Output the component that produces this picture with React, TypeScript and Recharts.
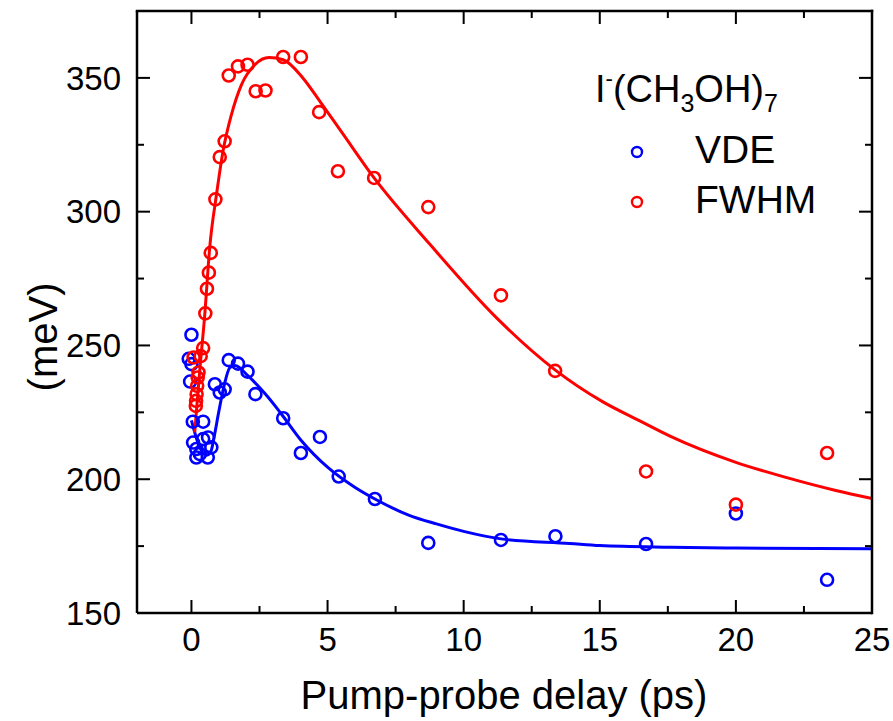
import { ComposedChart, Line, Scatter, XAxis, YAxis } from 'recharts';

// VDE (blue) measured points
const vdeX = [0.0, -0.1, 0.0, -0.05, 0.05, 0.43, 0.06, 0.18, 0.18, 0.31, 0.43, 0.61, 0.73, 0.6, 0.86, 1.04, 1.22, 1.37, 1.71, 2.06, 2.35, 3.37, 4.02, 4.72, 5.41, 6.74, 8.7, 11.37, 13.37, 16.7, 20.0, 23.35];
const vdeY = [254, 245, 243, 236.5, 221.5, 221.5, 213.7, 211.3, 208.1, 209.4, 215, 215.6, 211.9, 208.1, 235.5, 232.4, 233.6, 244.5, 243.2, 240.2, 231.8, 222.8, 209.8, 215.8, 201, 192.6, 176.2, 177.3, 178.7, 175.8, 187.2, 162.4];

// FWHM (red) measured points
const fwhmX = [0.08, 0.16, 0.17, 0.19, 0.21, 0.23, 0.26, 0.34, 0.43, 0.51, 0.57, 0.64, 0.71, 0.88, 1.04, 1.22, 1.37, 1.71, 2.06, 2.36, 2.72, 3.37, 4.02, 4.69, 5.38, 6.71, 8.7, 11.37, 13.36, 16.7, 20.0, 23.35];
const fwhmY = [245.5, 227.4, 229.3, 231.8, 234.9, 238, 239.9, 246, 249, 262, 271.2, 277.2, 284.6, 304.6, 320.4, 326.3, 350.9, 354.3, 354.9, 345, 345.3, 357.8, 357.8, 337.2, 315.1, 312.6, 301.7, 268.7, 240.5, 202.9, 190.5, 209.8];

// fit curves
const vdeFitX = [0.0, 0.3, 0.55, 0.7, 0.83, 1.0, 1.2, 1.41, 1.6, 2.08, 2.7, 3.31, 4.04, 5.0, 6.0, 6.74, 8.0, 9.0, 10.0, 11.37, 13.9, 15.0, 17.6, 20.0, 25.0];
const vdeFitY = [222, 212, 209, 210, 215.6, 225, 235, 241.7, 242.5, 238.6, 232, 224.3, 214.4, 204.5, 197, 192.6, 186.5, 183.3, 180.5, 177.7, 176, 175.2, 174.6, 174.3, 174];

const fwhmFitX = [0.12, 0.3, 0.49, 0.67, 0.92, 1.16, 1.47, 1.84, 2.33, 2.85, 3.37, 4.1, 4.72, 5.5, 6.71, 8.76, 11.2, 13.38, 15.1, 16.47, 17.6, 20.0, 21.9, 23.67, 25.0];
const fwhmFitY = [217.5, 240, 261.6, 286.5, 306.4, 322.6, 336.3, 347.5, 354.9, 357.6, 356.8, 349.9, 341.2, 330, 312.6, 287.8, 260.4, 240.7, 229, 221.8, 216, 206.3, 200.5, 195.8, 192.8];

const xMajor = [0, 5, 10, 15, 20, 25];
const xMinor = [2.5, 7.5, 12.5, 17.5, 22.5];
const yMajor = [150, 200, 250, 300, 350];
const yMinor = [175, 225, 275, 325];

const BLUE = '#0000ff';
const RED = '#ff0000';
const INK = 'black';
const FONT = '"Liberation Sans", Arial, sans-serif';

const X_MIN = -2;
const X_MAX = 25;
const Y_MIN = 150;
const Y_MAX = 375;

// chart box
const W = 893;
const H = 721;
const M_TOP = 11;
const M_RIGHT = 21;
const Y_AXIS_W = 137;
const X_AXIS_H = 108;
const PL = Y_AXIS_W;
const PR = W - M_RIGHT;
const PT = M_TOP;
const PB = H - X_AXIS_H;

const zip = (xs: number[], ys: number[]) => xs.map((x, i) => ({ x, y: ys[i] }));

const vdePts = zip(vdeX, vdeY);
const fwhmPts = zip(fwhmX, fwhmY);
const vdeFit = zip(vdeFitX, vdeFitY);
const fwhmFit = zip(fwhmFitX, fwhmFitY);

const openCircle = (color: string) => (p: any) => (
    <circle cx={p.cx} cy={p.cy} r={6} fill="none" stroke={color} strokeWidth={2.6} />
);

// same linear mapping as the chart's axes, used for the frame and inward ticks
const sx = (v: number) => PL + ((v - X_MIN) / (X_MAX - X_MIN)) * (PR - PL);
const sy = (v: number) => PB - ((v - Y_MIN) / (Y_MAX - Y_MIN)) * (PB - PT);

type R = { x: number; y: number; w: number; h: number };
const tickRects = (): R[] => {
    const out: R[] = [];
    const t = 2;
    const add = (vals: number[], len: number) => {
        vals.forEach((v) => {
            const x = sx(v);
            out.push({ x: x - t / 2, y: PB - len, w: t, h: len });
            out.push({ x: x - t / 2, y: PT, w: t, h: len });
        });
    };
    const addY = (vals: number[], len: number) => {
        vals.forEach((v) => {
            const y = sy(v);
            out.push({ x: PL, y: y - t / 2, w: len, h: t });
            out.push({ x: PR - len, y: y - t / 2, w: len, h: t });
        });
    };
    add(xMajor, 13);
    add(xMinor, 7);
    addY(yMajor, 13);
    addY(yMinor, 7);
    return out;
};

export default function App() {
    const axisLine = { stroke: '#000', strokeWidth: 2.5 };
    const tickFont = { fontSize: 33, fontFamily: FONT, fill: '#000' };
    const ticks = tickRects();
    return (
        <div style={{ position: 'relative', width: W, height: H, background: '#fff', overflow: 'hidden' }}>
            <style>{'body { margin: 0; overflow: hidden; }'}</style>
            <ComposedChart width={W} height={H} margin={{ top: M_TOP, right: M_RIGHT, bottom: 0, left: 0 }}>
                <XAxis xAxisId="b" dataKey="x" type="number" domain={[X_MIN, X_MAX]}
                    ticks={xMajor} interval={0} height={X_AXIS_H} tickSize={0} tickMargin={15}
                    tickLine={false} axisLine={axisLine} tick={tickFont} />
                <YAxis yAxisId="l" type="number" domain={[Y_MIN, Y_MAX]}
                    ticks={yMajor} interval={0} width={Y_AXIS_W} tickSize={0} tickMargin={16}
                    tickLine={false} axisLine={axisLine} tick={tickFont} />

                <Scatter xAxisId="b" yAxisId="l" data={vdePts} dataKey="y" shape={openCircle(BLUE)} isAnimationActive={false} />
                <Line xAxisId="b" yAxisId="l" data={vdeFit} dataKey="y" type="monotone" stroke={BLUE} strokeWidth={3} dot={false} activeDot={false} isAnimationActive={false} />
                <Scatter xAxisId="b" yAxisId="l" data={fwhmPts} dataKey="y" shape={openCircle(RED)} isAnimationActive={false} />
                <Line xAxisId="b" yAxisId="l" data={fwhmFit} dataKey="y" type="monotone" stroke={RED} strokeWidth={3} dot={false} activeDot={false} isAnimationActive={false} />
            </ComposedChart>

            {/* frame, inward ticks, titles and legend */}
            <svg width={W} height={H} style={{ position: 'absolute', left: 0, top: 0, pointerEvents: 'none' }}>
                <rect x={PL - 1.25} y={PT - 1.25} width={PR - PL + 2.5} height={2.5} fill={INK} />
                <rect x={PR - 1.25} y={PT - 1.25} width={2.5} height={PB - PT + 2.5} fill={INK} />
                {ticks.map((r, i) => (
                    <rect key={i} x={r.x} y={r.y} width={r.w} height={r.h} fill={INK} />
                ))}

                <text x={504} y={709} textAnchor="middle" fontSize={40} fontFamily={FONT} fill="#000">
                    Pump-probe delay (ps)
                </text>
                <text
                    x={43}
                    y={337}
                    transform="rotate(-90 43 337)"
                    textAnchor="middle"
                    dominantBaseline="central"
                    fontSize={40}
                    fontFamily={FONT}
                    fill="#000"
                >
                    (meV)
                </text>
                <text x={595} y={102} fontSize={38} fontFamily={FONT} fill="#000">
                    I<tspan dy={-16} fontSize={22}>-</tspan>
                    <tspan dy={16}>(CH</tspan>
                    <tspan dy={10} fontSize={25}>3</tspan>
                    <tspan dy={-10}>OH)</tspan>
                    <tspan dy={10} fontSize={25}>7</tspan>
                </text>
                <circle cx={637} cy={152} r={5} fill="none" stroke={BLUE} strokeWidth={2.4} />
                <text x={695} y={163} fontSize={39} fontFamily={FONT} fill="#000">VDE</text>
                <circle cx={637} cy={202} r={5} fill="none" stroke={RED} strokeWidth={2.4} />
                <text x={695} y={213} fontSize={39} fontFamily={FONT} fill="#000">FWHM</text>
            </svg>
        </div>
    );
}
